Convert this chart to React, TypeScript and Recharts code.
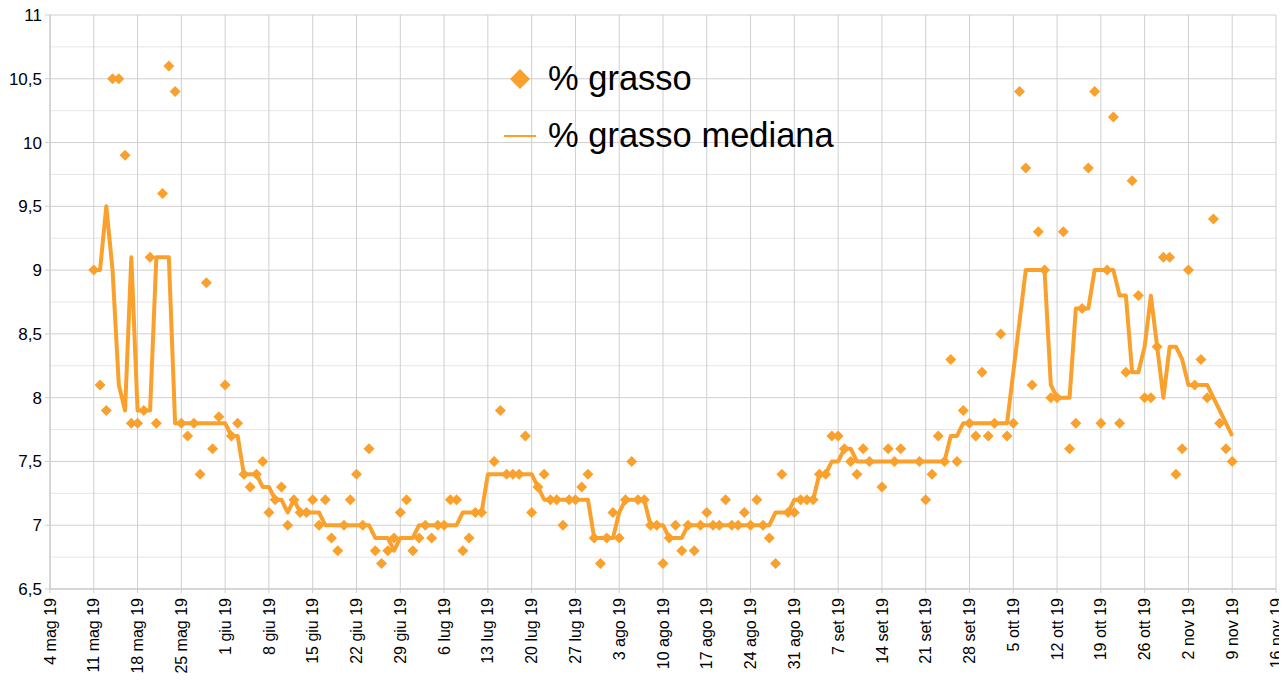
import React from 'react';
import {
  ComposedChart,
  Line,
  Scatter,
  XAxis,
  YAxis,
  CartesianGrid,
  Legend,
} from 'recharts';

const ORANGE = '#f9a12c';
const FONT = "'Liberation Sans', Arial, Helvetica, sans-serif";
const GRID_MAJOR = '#cfcfcf';
const GRID_MINOR = '#e6e6e6';

// days are counted from 4 mag 19; first measure is 11 mag 19
const FIRST_DAY = 7;

const xTickLabels = [
  '4 mag 19', '11 mag 19', '18 mag 19', '25 mag 19', '1 giu 19', '8 giu 19',
  '15 giu 19', '22 giu 19', '29 giu 19', '6 lug 19', '13 lug 19', '20 lug 19',
  '27 lug 19', '3 ago 19', '10 ago 19', '17 ago 19', '24 ago 19', '31 ago 19',
  '7 set 19', '14 set 19', '21 set 19', '28 set 19', '5 ott 19', '12 ott 19',
  '19 ott 19', '26 ott 19', '2 nov 19', '9 nov 19', '16 nov 19',
];

const yTicks = [6.5, 7, 7.5, 8, 8.5, 9, 9.5, 10, 10.5, 11];
const yTickLabels = ['6,5', '7', '7,5', '8', '8,5', '9', '9,5', '10', '10,5', '11'];
const yMinorTicks = [6.75, 7.25, 7.75, 8.25, 8.75, 9.25, 9.75, 10.25, 10.75];

const seriesNames = ['% grasso', '% grasso mediana'];

// % grasso, one value per day (null = no measure)
const grassoMag = [9.0, 8.1, 7.9, 10.5, 10.5, 9.9, 7.8, 7.8, 7.9, 9.1, 7.8, 9.6, 10.6, 10.4, 7.8, 7.7, 7.8, 7.4, 8.9, 7.6, 7.85];
const grassoGiu = [8.1, 7.7, 7.8, 7.4, 7.3, 7.4, 7.5, 7.1, 7.2, 7.3, 7.0, 7.2, 7.1, 7.1, 7.2, 7.0, 7.2, 6.9, 6.8, 7.0, 7.2, 7.4, 7.0, 7.6, 6.8, 6.7, 6.8, 6.9, 7.1, 7.2];
const grassoLug = [6.8, 6.9, 7.0, 6.9, 7.0, 7.0, 7.2, 7.2, 6.8, 6.9, 7.1, 7.1, null, 7.5, 7.9, 7.4, 7.4, 7.4, 7.7, 7.1, 7.3, 7.4, 7.2, 7.2, 7.0, 7.2, 7.2, 7.3, 7.4, 6.9, 6.7];
const grassoAgo = [6.9, 7.1, 6.9, 7.2, 7.5, 7.2, 7.2, 7.0, 7.0, 6.7, 6.9, 7.0, 6.8, 7.0, 6.8, 7.0, 7.1, 7.0, 7.0, 7.2, 7.0, 7.0, 7.1, 7.0, 7.2, 7.0, 6.9, 6.7, 7.4, 7.1, 7.1];
const grassoSet = [7.2, 7.2, 7.2, 7.4, 7.4, 7.7, 7.7, 7.6, 7.5, 7.4, 7.6, 7.5, null, 7.3, 7.6, 7.5, 7.6, null, null, 7.5, 7.2, 7.4, 7.7, 7.5, 8.3, 7.5, 7.9, 7.8, 7.7, 8.2];
const grassoOtt = [7.7, 7.8, 8.5, 7.7, 7.8, 10.4, 9.8, 8.1, 9.3, 9.0, 8.0, 8.0, 9.3, 7.6, 7.8, 8.7, 9.8, 10.4, 7.8, 9.0, 10.2, 7.8, 8.2, 9.7, 8.8, 8.0, 8.0, 8.4, 9.1, 9.1, 7.4];
const grassoNov = [7.6, 9.0, 8.1, 8.3, 8.0, 9.4, 7.8, 7.6, 7.5];

// % grasso mediana, one value per day
const medianaMag = [9.0, 9.0, 9.5, 9.0, 8.1, 7.9, 9.1, 7.9, 7.9, 7.9, 9.1, 9.1, 9.1, 7.8, 7.8, 7.8, 7.8, 7.8, 7.8, 7.8, 7.8];
const medianaGiu = [7.8, 7.7, 7.7, 7.4, 7.4, 7.4, 7.3, 7.3, 7.2, 7.2, 7.1, 7.2, 7.1, 7.1, 7.1, 7.1, 7.0, 7.0, 7.0, 7.0, 7.0, 7.0, 7.0, 7.0, 6.9, 6.9, 6.9, 6.8, 6.9, 6.9];
const medianaLug = [6.9, 7.0, 7.0, 7.0, 7.0, 7.0, 7.0, 7.0, 7.1, 7.1, 7.1, 7.1, 7.4, 7.4, 7.4, 7.4, 7.4, 7.4, 7.4, 7.4, 7.3, 7.2, 7.2, 7.2, 7.2, 7.2, 7.2, 7.2, 7.2, 6.9, 6.9];
const medianaAgo = [6.9, 6.9, 7.1, 7.2, 7.2, 7.2, 7.2, 7.0, 7.0, 7.0, 6.9, 6.9, 6.9, 7.0, 7.0, 7.0, 7.0, 7.0, 7.0, 7.0, 7.0, 7.0, 7.0, 7.0, 7.0, 7.0, 7.0, 7.1, 7.1, 7.1, 7.2];
const medianaSet = [7.2, 7.2, 7.2, 7.4, 7.4, 7.5, 7.5, 7.6, 7.6, 7.5, 7.5, 7.5, 7.5, 7.5, 7.5, 7.5, 7.5, 7.5, 7.5, 7.5, 7.5, 7.5, 7.5, 7.5, 7.7, 7.7, 7.8, 7.8, 7.8, 7.8];
const medianaOtt = [7.8, 7.8, 7.8, 7.8, 8.2, 8.6, 9.0, 9.0, 9.0, 9.0, 8.1, 8.0, 8.0, 8.0, 8.7, 8.7, 8.7, 9.0, 9.0, 9.0, 9.0, 8.8, 8.8, 8.2, 8.2, 8.4, 8.8, 8.4, 8.0, 8.4, 8.4];
const medianaNov = [8.3, 8.1, 8.1, 8.1, 8.1, 8.0, 7.9, 7.8, 7.7];

const grassoAll = [...grassoMag, ...grassoGiu, ...grassoLug, ...grassoAgo, ...grassoSet, ...grassoOtt, ...grassoNov];
const medianaAll = [...medianaMag, ...medianaGiu, ...medianaLug, ...medianaAgo, ...medianaSet, ...medianaOtt, ...medianaNov];

const grassoData = grassoAll
  .map((v, i) => ({ day: FIRST_DAY + i, grasso: v }))
  .filter((d) => d.grasso != null);
const medianaData = medianaAll.map((v, i) => ({ day: FIRST_DAY + i, mediana: v }));

const xTicks = xTickLabels.map((_, i) => i * 7);

// eslint-disable-next-line @typescript-eslint/no-explicit-any
const Diamond = (props: any) => {
  const { cx, cy } = props;
  if (cx == null || cy == null) return null;
  const r = 5.5;
  return (
    <polygon
      points={`${cx},${cy - r} ${cx + r},${cy} ${cx},${cy + r} ${cx - r},${cy}`}
      fill={ORANGE}
    />
  );
};

// eslint-disable-next-line @typescript-eslint/no-explicit-any
const XTick = (props: any) => {
  const { x, y, payload } = props;
  const label = xTickLabels[Math.round(payload.value / 7)];
  return (
    <text
      x={x}
      y={y}
      dy="0.35em"
      textAnchor="end"
      transform={`rotate(-90, ${x}, ${y})`}
      fontSize={16}
      fontFamily={FONT}
      fill="#000"
    >
      {label}
    </text>
  );
};

const renderLegend = () => (
  <div style={{ fontFamily: FONT, fontSize: 34.5, color: '#000' }}>
    {seriesNames.map((name, i) => (
      <div key={name} style={{ display: 'flex', alignItems: 'center', height: 57 }}>
        <div style={{ width: 40, display: 'flex', justifyContent: 'center', alignItems: 'center' }}>
          {i === 0 ? (
            <svg width={22} height={22}>
              <polygon points="11,1 21,11 11,21 1,11" fill={ORANGE} />
            </svg>
          ) : (
            <svg width={32} height={4}>
              <line x1={0} y1={2} x2={32} y2={2} stroke={ORANGE} strokeWidth={2} />
            </svg>
          )}
        </div>
        <span style={{ marginLeft: 8, whiteSpace: 'nowrap' }}>{name}</span>
      </div>
    ))}
  </div>
);

export default function App() {
  // pull the chart into the page corner so svg coordinates match the page
  return (
    <div style={{ width: 1287, height: 688, margin: '-8px 0 0 -8px' }}>
      <ComposedChart
        width={1287}
        height={688}
        data={medianaData}
        margin={{ top: 15, right: 11, bottom: 0, left: 0 }}
      >
        <CartesianGrid
          vertical={false}
          horizontalValues={yMinorTicks}
          stroke={GRID_MINOR}
          strokeWidth={1}
        />
        <CartesianGrid stroke={GRID_MAJOR} strokeWidth={1} />
        <XAxis
          dataKey="day"
          type="number"
          domain={[0, 196]}
          ticks={xTicks}
          interval={0}
          allowDataOverflow
          height={99}
          tick={<XTick />}
          tickSize={4}
          tickMargin={5}
          axisLine={{ stroke: '#c4c4c4' }}
          tickLine={{ stroke: GRID_MAJOR }}
        />
        <YAxis
          type="number"
          domain={[6.5, 11]}
          ticks={yTicks}
          interval={0}
          allowDataOverflow
          width={50}
          tickSize={5}
          tickMargin={3}
          tickFormatter={(v: number) => yTickLabels[yTicks.indexOf(v)] ?? String(v)}
          tick={{ fill: '#000', fontSize: 17, fontFamily: FONT }}
          axisLine={{ stroke: '#c4c4c4' }}
          tickLine={{ stroke: GRID_MAJOR }}
        />
        <Legend
          content={renderLegend}
          layout="horizontal"
          verticalAlign="middle"
          align="center"
          wrapperStyle={{ position: 'absolute', left: 500, top: 50, width: 420 }}
        />
        <Line
          type="linear"
          dataKey="mediana"
          name={seriesNames[1]}
          stroke={ORANGE}
          strokeWidth={4}
          strokeLinejoin="round"
          dot={false}
          activeDot={false}
          isAnimationActive={false}
        />
        <Scatter
          data={grassoData}
          dataKey="grasso"
          name={seriesNames[0]}
          fill={ORANGE}
          shape={Diamond}
          isAnimationActive={false}
        />
      </ComposedChart>
    </div>
  );
}
